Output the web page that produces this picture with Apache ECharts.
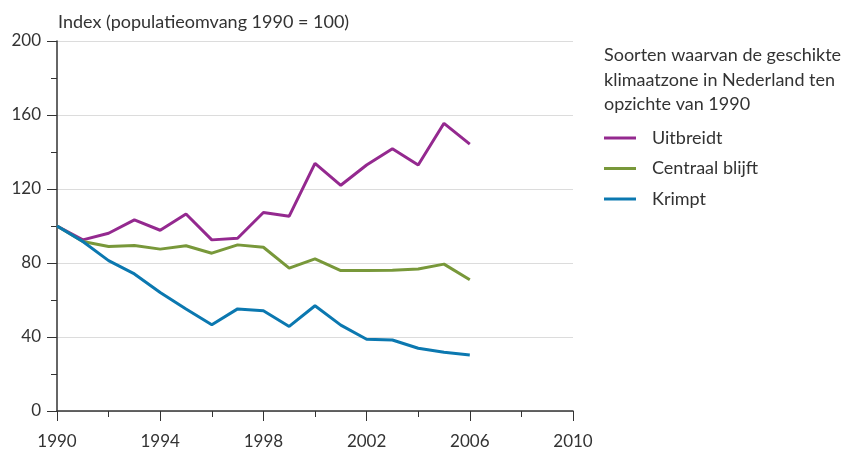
<!DOCTYPE html>
<html>
<head>
    <meta charset="utf-8">
    <title>Klimaatzone soorten</title>
    <script src="https://cdn.jsdelivr.net/npm/echarts@6/dist/echarts.min.js"></script>
</head>
<body style="margin:0">
    <div id="main" style="width: 850px;height:450px;"></div>
    <script type="text/javascript">
        var years = [1990, 1991, 1992, 1993, 1994, 1995, 1996, 1997, 1998, 1999, 2000, 2001, 2002, 2003, 2004, 2005, 2006]
        var uitbreidt = [100, 92.5, 96.1, 103.3, 97.7, 106.5, 92.5, 93.4, 107.3, 105.3, 133.9, 122, 133, 141.8, 133, 155.5, 144.3]
        var centraal = [100, 91.6, 88.9, 89.4, 87.5, 89.3, 85.3, 89.8, 88.5, 77.2, 82.2, 75.9, 75.9, 76.1, 76.8, 79.4, 70.9]
        var krimpt = [100, 91.6, 81.3, 74.1, 64.1, 55.1, 46.6, 55.2, 54.2, 45.7, 56.9, 46.4, 38.8, 38.4, 33.9, 31.7, 30.3]
        var seriesNames = ['Uitbreidt', 'Centraal blijft', 'Krimpt']
        var colors = ['#94298f', '#78983a', '#0b78b0']

        var font = 'Lato'
        var pairs = function (vals) {
            return years.map(function (y, i) { return [y, vals[i]] })
        }

        var myChart = echarts.init(document.getElementById('main'))
        var option = {
            animation: false,
            color: colors,
            title: [{
                text: 'Index (populatieomvang 1990 = 100)',
                left: 53,
                top: 8,
                textStyle: { fontFamily: font, fontSize: 18, fontWeight: 'normal', color: '#333' }
            }, {
                text: 'Soorten waarvan de geschikte\nklimaatzone in Nederland ten\nopzichte van 1990',
                left: 599,
                top: 38,
                textStyle: { fontFamily: font, fontSize: 18, fontWeight: 'normal', color: '#333', lineHeight: 24.5 }
            }],
            legend: {
                orient: 'vertical',
                left: 599,
                top: 122,
                itemWidth: 32,
                itemHeight: 3,
                itemGap: 8.5,
                icon: 'rect',
                data: seriesNames,
                textStyle: { fontFamily: font, fontSize: 18, color: '#333', lineHeight: 22, padding: [0, 0, 0, 11] }
            },
            grid: { left: 57, right: 277, top: 41, bottom: 39 },
            xAxis: {
                type: 'value',
                min: 1990,
                max: 2010,
                interval: 4,
                axisLine: { lineStyle: { color: '#333', width: 1.5 } },
                axisTick: { show: true, length: 10, lineStyle: { color: '#333' } },
                minorTick: { show: true, splitNumber: 2, length: 6, lineStyle: { color: '#333' } },
                splitLine: { show: false },
                axisLabel: {
                    fontFamily: font, fontSize: 17, color: '#333', margin: 22,
                    formatter: function (v) { return String(v) }
                }
            },
            yAxis: {
                type: 'value',
                min: 0,
                max: 200,
                interval: 40,
                axisLine: { show: true, lineStyle: { color: '#333', width: 1.5 } },
                axisTick: { show: true, length: 10, lineStyle: { color: '#333' } },
                minorTick: { show: true, splitNumber: 2, length: 6, lineStyle: { color: '#333' } },
                splitLine: { show: true, lineStyle: { color: '#dcdcdc' } },
                axisLabel: { fontFamily: font, fontSize: 17, color: '#333', margin: 16 }
            },
            series: [{
                name: seriesNames[0],
                type: 'line',
                symbol: 'none',
                lineStyle: { width: 3 },
                data: pairs(uitbreidt)
            }, {
                name: seriesNames[1],
                type: 'line',
                symbol: 'none',
                lineStyle: { width: 3 },
                data: pairs(centraal)
            }, {
                name: seriesNames[2],
                type: 'line',
                symbol: 'none',
                lineStyle: { width: 3 },
                data: pairs(krimpt)
            }]
        }
        myChart.setOption(option)
    </script>
</body>
</html>
